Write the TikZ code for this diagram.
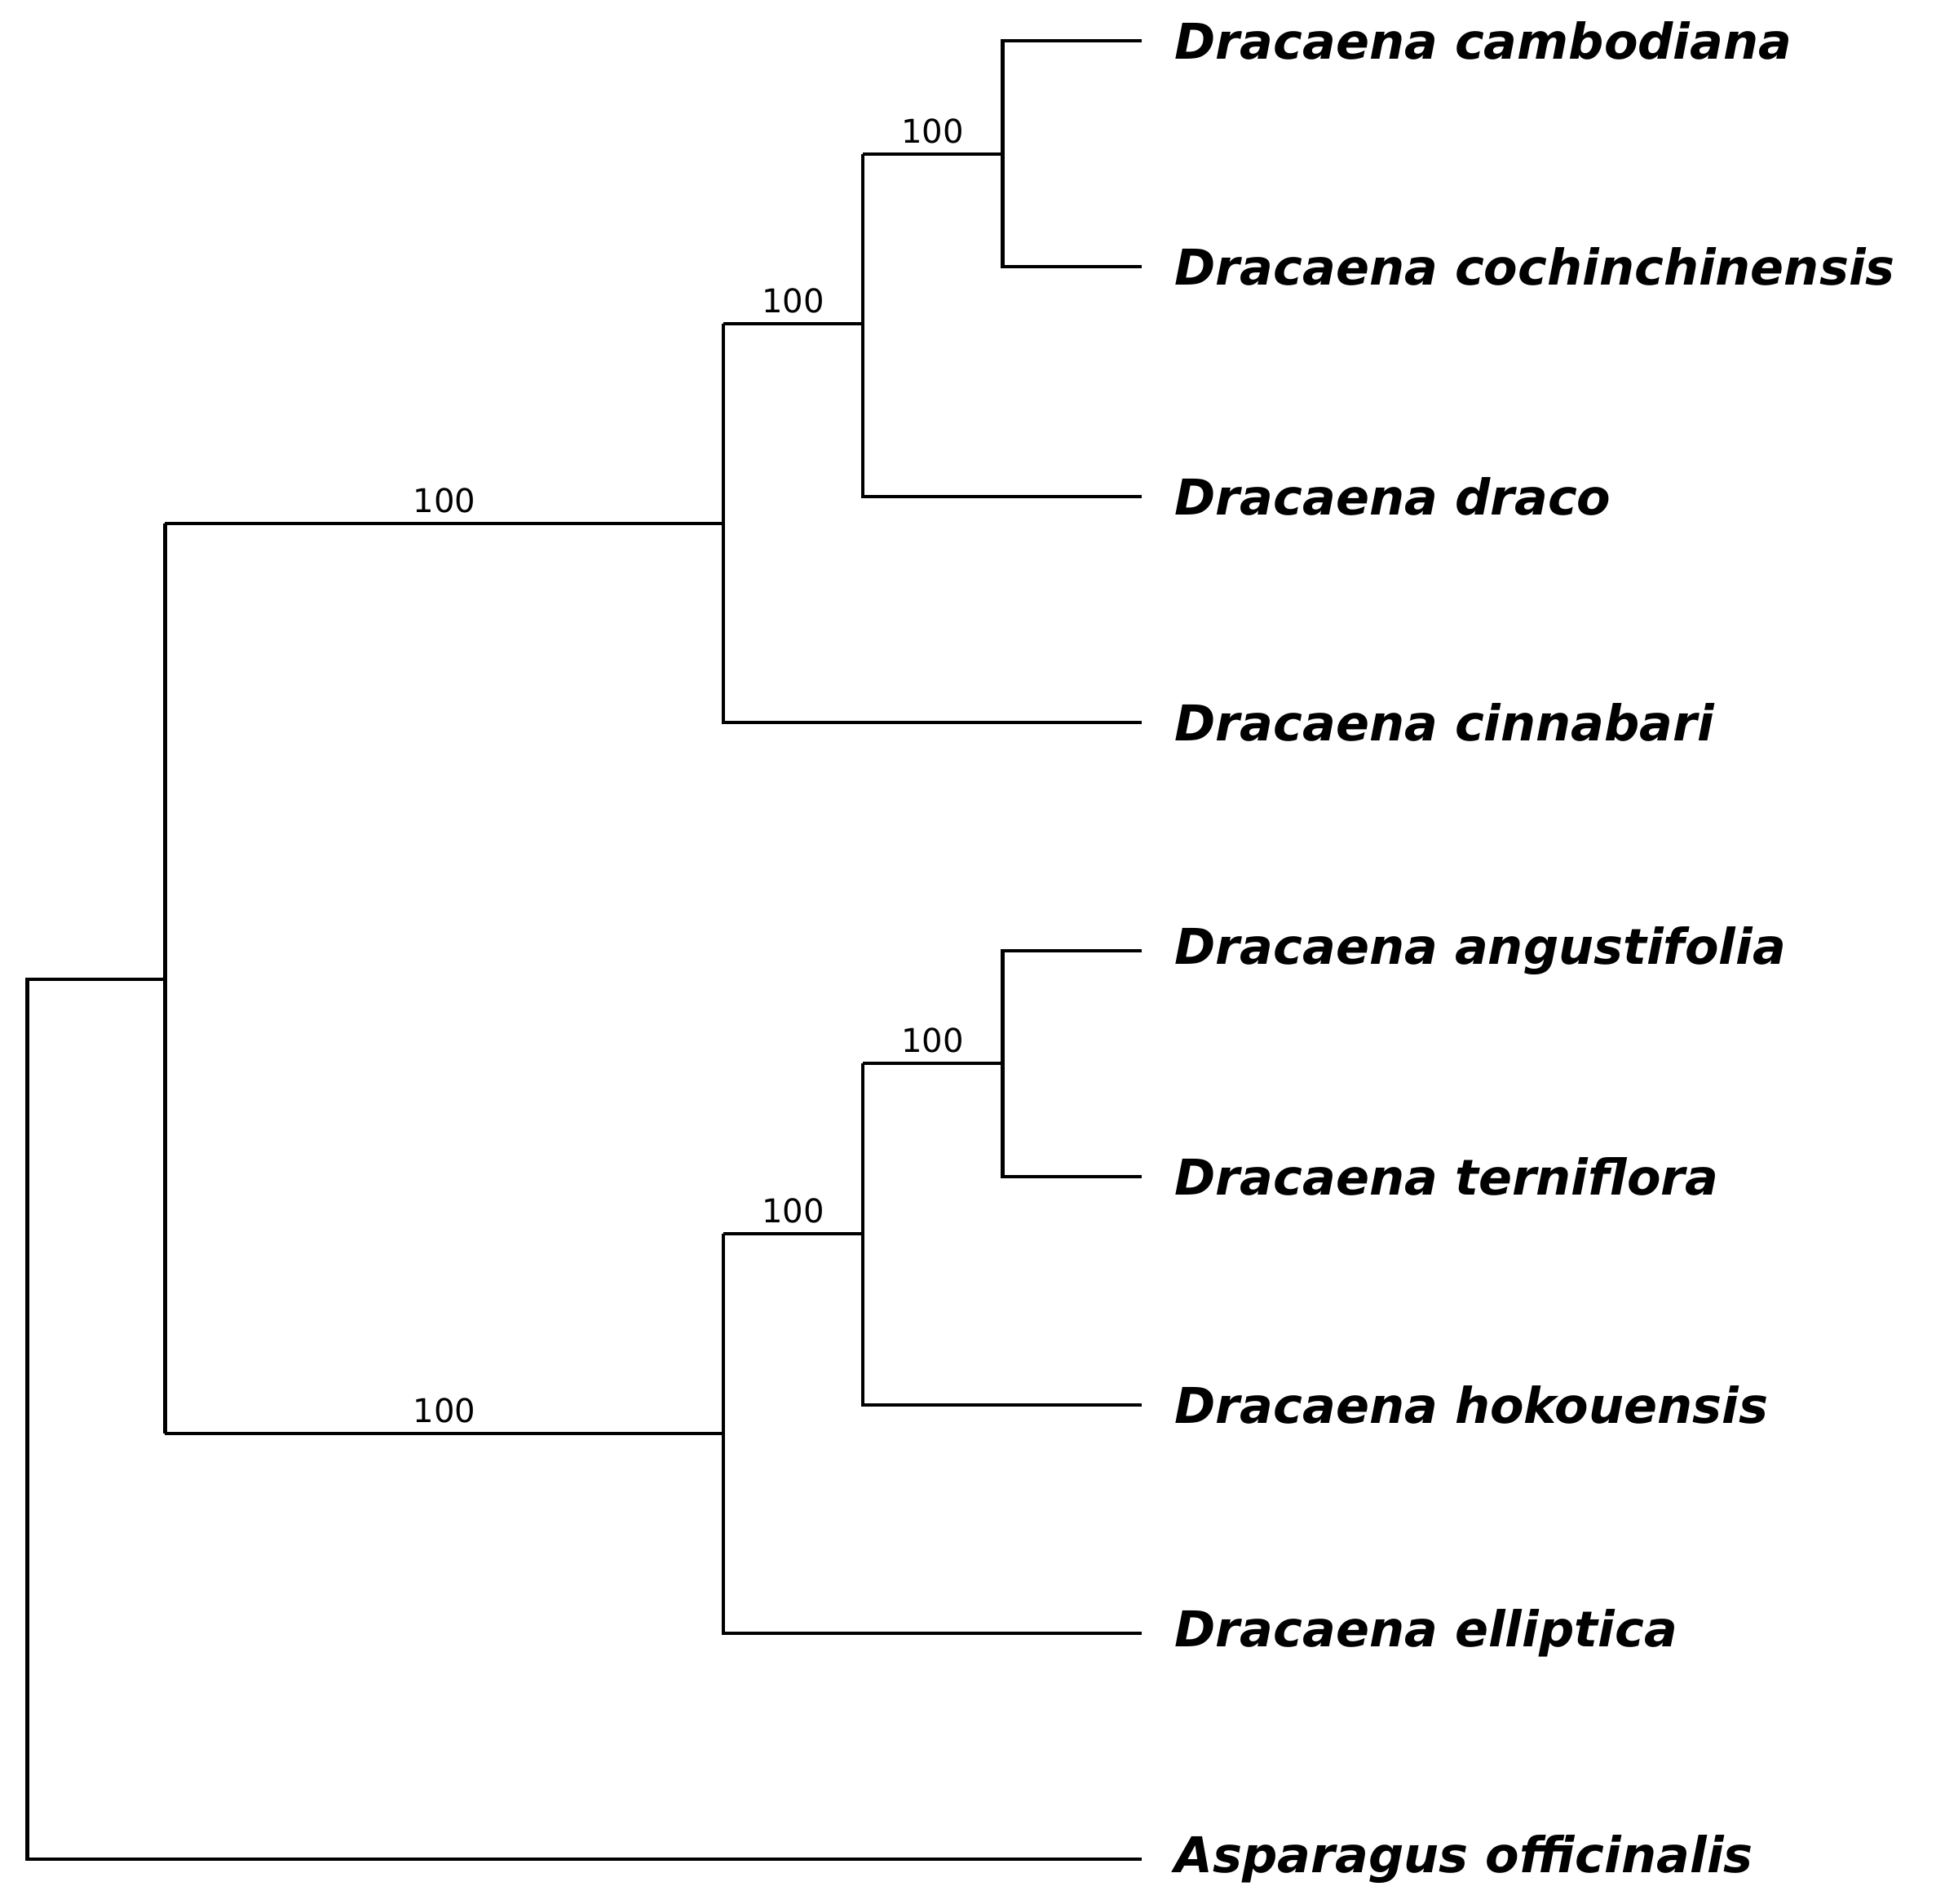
\documentclass[tikz,border=0pt]{standalone}
\usepackage{fontspec}
\setmainfont{DejaVu Sans}
\usetikzlibrary{positioning}
\tikzset{
  branch/.style = {line width=0.8pt, black},
  taxon/.style  = {anchor=west, inner sep=0pt, font=\fontsize{11.3}{13}\selectfont\bfseries\itshape},
  support/.style = {above, inner sep=2pt, font=\fontsize{7.5}{9}\selectfont}
}
\begin{document}
\begin{tikzpicture}[x=0.01cm, y=-0.01cm]
    \useasboundingbox (0,0) rectangle (1560,1534);

    % tips
    \coordinate (cam) at (920,33);
    \coordinate (coc) at (920,215);
    \coordinate (dra) at (920,400);
    \coordinate (cin) at (920,582);
    \coordinate (ang) at (920,766);
    \coordinate (ter) at (920,948);
    \coordinate (hok) at (920,1132);
    \coordinate (ell) at (920,1316);
    \coordinate (asp) at (920,1498);

    % internal nodes
    \coordinate (n1)   at (808,124);
    \coordinate (n2)   at (695,261);
    \coordinate (n3)   at (583,422);
    \coordinate (n4)   at (808,857);
    \coordinate (n5)   at (695,994);
    \coordinate (n6)   at (583,1155);
    \coordinate (drac) at (133,789);
    \coordinate (root) at (22,789);

    % taxon names
    \node (tcam) [taxon, right=26 of cam] {Dracaena cambodiana};
    \node (tcoc) [taxon, right=26 of coc] {Dracaena cochinchinensis};
    \node (tdra) [taxon, right=26 of dra] {Dracaena draco};
    \node (tcin) [taxon, right=26 of cin] {Dracaena cinnabari};
    \node (tang) [taxon, right=26 of ang] {Dracaena angustifolia};
    \node (tter) [taxon, right=26 of ter] {Dracaena terniflora};
    \node (thok) [taxon, right=26 of hok] {Dracaena hokouensis};
    \node (tell) [taxon, right=26 of ell] {Dracaena elliptica};
    \node (tasp) [taxon, right=26 of asp] {Asparagus officinalis};

    % branches
    \draw [branch] (cam) -| (n1) |- (coc);
    \draw [branch] (n1) -- node[support] {100} (n1 -| n2);
    \draw [branch] (n1 -| n2) |- (dra);
    \draw [branch] (n2) -- node[support] {100} (n2 -| n3);
    \draw [branch] (n2 -| n3) |- (cin);
    \draw [branch] (n3) -- node[support] {100} (n3 -| drac);

    \draw [branch] (ang) -| (n4) |- (ter);
    \draw [branch] (n4) -- node[support] {100} (n4 -| n5);
    \draw [branch] (n4 -| n5) |- (hok);
    \draw [branch] (n5) -- node[support] {100} (n5 -| n6);
    \draw [branch] (n5 -| n6) |- (ell);
    \draw [branch] (n6) -- node[support] {100} (n6 -| drac);

    \draw [branch] (n3 -| drac) -- (n6 -| drac);
    \draw [branch] (drac) -- (root) |- (asp);

\end{tikzpicture}
\end{document}
